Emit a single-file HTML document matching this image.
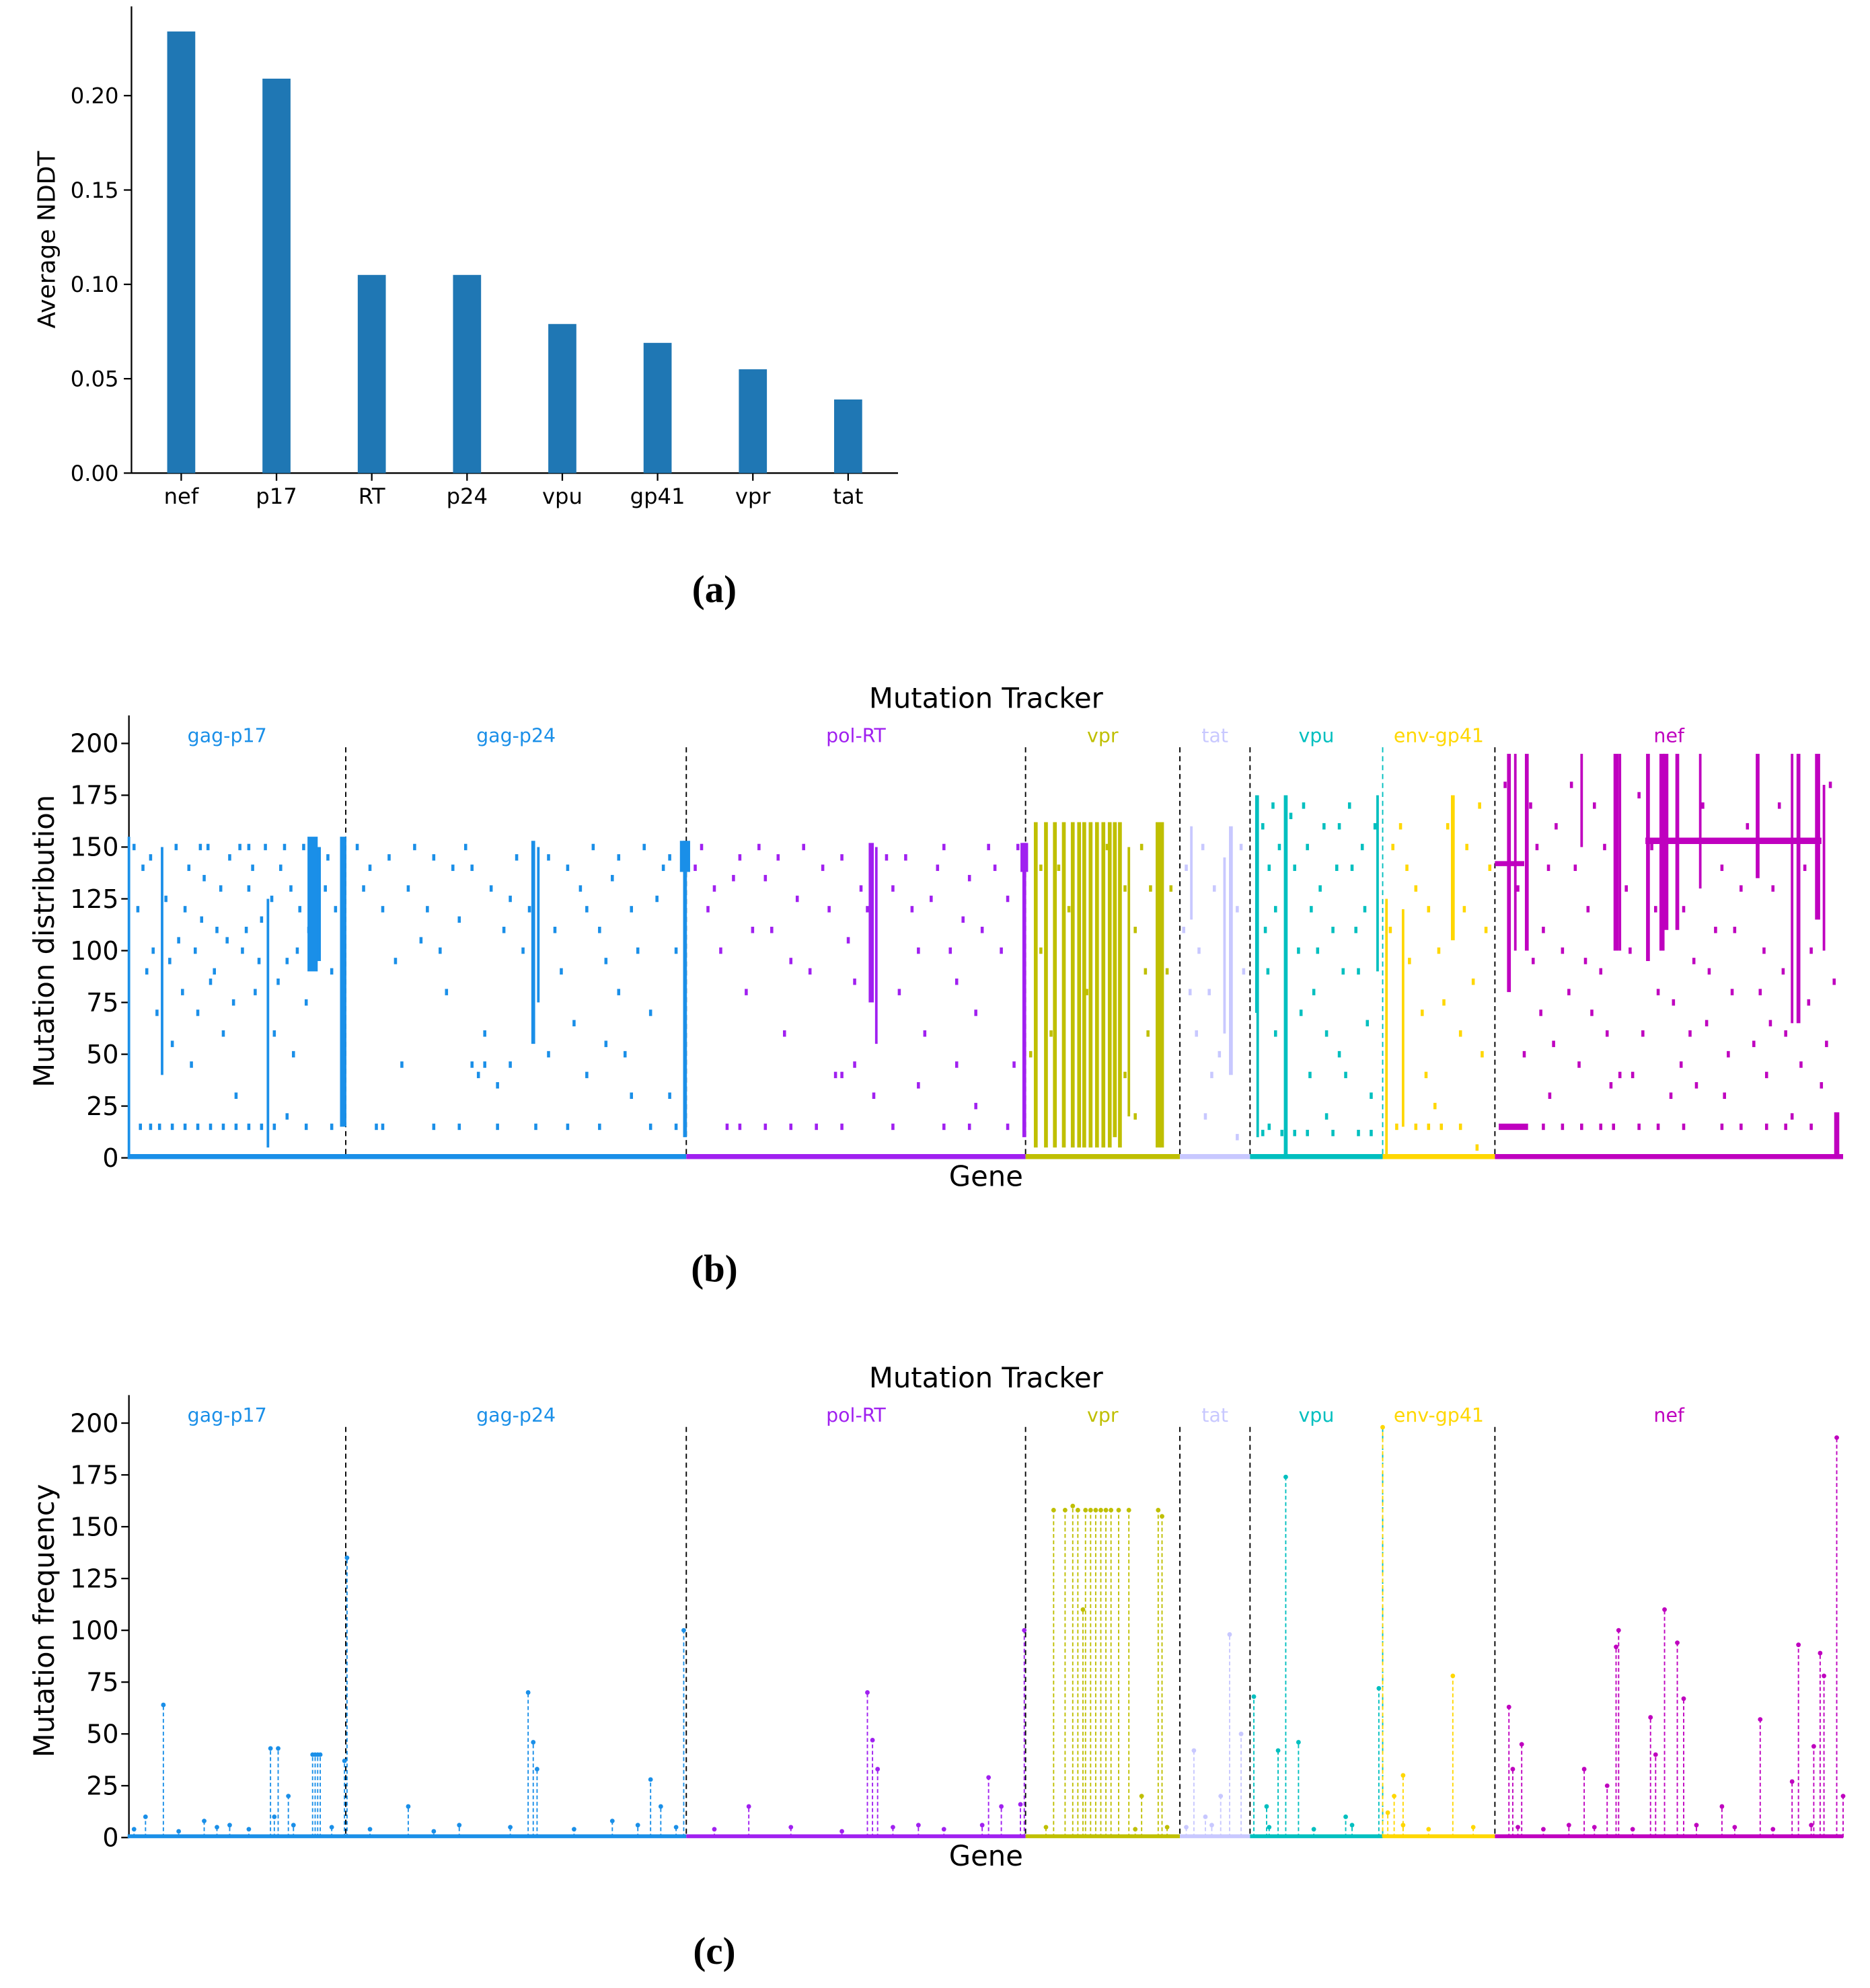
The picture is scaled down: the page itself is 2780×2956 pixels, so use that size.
<!DOCTYPE html>
<html><head><meta charset="utf-8"><style>
html,body{margin:0;padding:0;background:#fff;}
svg{display:block;}
text{font-family:"DejaVu Sans","Liberation Sans",sans-serif;}
.cap{font-family:"Liberation Serif",serif;font-weight:bold;font-size:30px;}
</style></head><body>
<svg id="fig" width="2780" height="2956" viewBox="0 0 1466 1559" xmlns="http://www.w3.org/2000/svg">
<g id="pa"></g>
<text class="cap" x="560" y="472" text-anchor="middle">(a)</text>
<g id="pb"></g>
<text class="cap" x="560" y="1005" text-anchor="middle">(b)</text>
<g id="pc"></g>
<text class="cap" x="560" y="1540" text-anchor="middle">(c)</text>
</svg>
<script>
// ---------- Panel (a) data ----------
const barCats = ["nef","p17","RT","p24","vpu","gp41","vpr","tat"];
const barVals = [0.234,0.209,0.105,0.105,0.079,0.069,0.055,0.039];
const barTicks = [0,0.05,0.10,0.15,0.20];
const barTickLabels = ["0.00","0.05","0.10","0.15","0.20"];

// ---------- Panels (b)/(c) data ----------
const genes = ["gag-p17","gag-p24","pol-RT","vpr","tat","vpu","env-gp41","nef"];
const geneStart = [0,171,438,704,825,880,984,1072];
const geneEnd = [171,438,704,825,880,984,1072,1345];
const geneColors = ["#1a8fe8","#1a8fe8","#a020f0","#bfbf00","#c8c8ff","#00bfbf","#ffd700","#bf00bf"];
const yTicks = [0,25,50,75,100,125,150,175,200];

// distribution vertical segments: [pos, y0, y1, geneIndex, width]
const distSegs = [
 [1,0,155,0,2],[27,40,150,0,2],[145,90,155,0,8],[150,95,150,0,3],[169,15,155,0,5],[110,5,125,0,2],
 [318,55,153,1,3],[322,75,150,1,2],[437,10,153,1,3],[437,138,153,1,8],
 [583,75,152,2,4],[587,55,150,2,2],[703,10,152,2,3],[703,138,152,2,6],
 [712,5,162,3,3],[720,5,162,3,3],[727,5,162,3,3],[734,5,162,3,3],[741,5,162,3,3],[746,5,162,3,3],[750,5,162,3,3],[755,5,162,3,3],[760,5,162,3,3],[765,5,162,3,3],[770,5,162,3,3],[774,10,162,3,3],[778,5,162,3,3],[785,20,150,3,2],[808,5,162,3,4],[811,5,162,3,3],
 [834,115,160,4,2],[865,40,160,4,3],[860,60,145,4,2],
 [908,0,175,5,3],[885,70,175,5,2],[886,10,175,5,2],[980,90,175,5,2],
 [1039,105,175,6,3],[987,0,125,6,2],[1000,15,120,6,2],
 [1083,80,195,7,3],[1088,100,195,7,2],[1097,100,195,7,3],[1140,150,195,7,2],[1167,100,195,7,4],[1170,100,195,7,2],[1192,95,195,7,3],[1203,100,195,7,4],[1206,110,195,7,4],[1215,110,195,7,3],[1233,130,195,7,2],[1278,135,195,7,3],[1305,65,195,7,2],[1310,65,195,7,3],[1325,115,195,7,4],[1340,0,22,7,4],[1330,100,180,7,2]
];
// horizontal segments: [pos0,pos1,y,geneIndex,width]
const distHSegs = [[1190,1328,153,7,5],[1072,1095,142,7,4],[1075,1098,15,7,5]];
// dots: [pos, value, geneIndex]
const distDots = [
 [5,150,0],[12,140,0],[20,100,0],[30,125,0],[40,105,0],[45,120,0],[50,45,0],[55,70,0],[60,135,0],[65,85,0],[70,110,0],[75,60,0],[80,145,0],[85,30,0],[90,100,0],[95,130,0],[100,80,0],[105,115,0],[115,60,0],[120,140,0],[125,95,0],[130,50,0],[135,120,0],[140,75,0],[155,130,0],[160,90,0],[10,15,0],[25,15,0],[45,15,0],[65,15,0],[85,15,0],[160,15,0],[35,55,0],[15,90,0],[95,150,0],[57,150,0],
 [8,120,0],[18,145,0],[23,70,0],[33,95,0],[38,150,0],[43,80,0],[48,140,0],[53,100,0],[58,115,0],[63,150,0],[68,90,0],[73,130,0],[78,105,0],[83,75,0],[88,150,0],[93,110,0],[98,140,0],[103,95,0],[108,150,0],[113,125,0],[118,85,0],[123,150,0],[128,130,0],[133,100,0],[138,150,0],[142,110,0],[157,145,0],[163,120,0],[18,15,0],[35,15,0],[55,15,0],[75,15,0],[95,15,0],[105,15,0],[115,15,0],[125,20,0],[140,15,0],
 [180,150,1],[190,140,1],[200,120,1],[210,95,1],[220,130,1],[230,105,1],[240,145,1],[250,80,1],[260,115,1],[270,140,1],[280,60,1],[290,35,1],[300,125,1],[310,100,1],[330,145,1],[340,90,1],[350,65,1],[360,120,1],[370,110,1],[380,135,1],[390,50,1],[400,100,1],[410,70,1],[420,140,1],[430,100,1],[195,15,1],[215,45,1],[240,15,1],[290,15,1],[300,45,1],[345,15,1],[410,15,1],[425,30,1],[275,40,1],[330,50,1],[355,130,1],
 [185,130,1],[205,145,1],[225,150,1],[235,120,1],[245,100,1],[255,140,1],[265,150,1],[285,130,1],[295,110,1],[305,145,1],[315,120,1],[335,110,1],[345,140,1],[365,150,1],[375,95,1],[385,145,1],[395,120,1],[405,150,1],[415,125,1],[425,145,1],[270,45,1],[280,45,1],[360,40,1],[375,55,1],[385,80,1],[395,30,1],[200,15,1],[260,15,1],[320,15,1],[370,15,1],[430,15,1],
 [445,140,2],[455,120,2],[465,100,2],[475,135,2],[485,80,2],[495,150,2],[505,110,2],[515,60,2],[525,125,2],[535,90,2],[545,140,2],[555,40,2],[565,105,2],[575,130,2],[595,145,2],[605,80,2],[615,120,2],[625,60,2],[635,140,2],[645,100,2],[655,115,2],[665,70,2],[675,150,2],[685,100,2],[695,45,2],[470,15,2],[500,15,2],[540,15,2],[600,15,2],[640,15,2],[690,15,2],[560,40,2],[620,35,2],
 [450,150,2],[460,130,2],[480,145,2],[490,110,2],[500,135,2],[510,145,2],[520,95,2],[530,150,2],[550,120,2],[560,145,2],[570,85,2],[580,120,2],[600,130,2],[610,145,2],[620,100,2],[630,125,2],[640,150,2],[650,85,2],[660,135,2],[670,110,2],[680,140,2],[690,125,2],[698,150,2],[570,45,2],[585,30,2],[650,45,2],[665,25,2],[480,15,2],[520,15,2],[560,15,2],[660,15,2],
 [716,100,3],[724,60,3],[730,140,3],[738,120,3],[752,80,3],[768,150,3],[782,40,3],[790,110,3],[798,90,3],[802,130,3],[790,20,3],[800,60,3],[708,50,3],[716,140,3],[782,130,3],[795,150,3],[815,90,3],[818,130,3],
 [830,140,4],[840,100,4],[848,80,4],[852,130,4],[856,50,4],[870,120,4],[875,90,4],[845,20,4],[870,10,4],[838,60,4],[828,110,4],[843,150,4],[850,40,4],[873,150,4],[833,80,4],
 [890,160,5],[895,140,5],[900,120,5],[912,165,5],[918,100,5],[925,150,5],[930,80,5],[935,130,5],[940,60,5],[945,110,5],[950,160,5],[955,40,5],[960,140,5],[965,90,5],[970,120,5],[975,30,5],[890,12,5],[895,15,5],[905,12,5],[915,12,5],[925,12,5],[945,12,5],[965,12,5],[975,12,5],[920,70,5],[940,20,5],
 [892,110,5],[898,170,5],[903,150,5],[915,140,5],[922,170,5],[928,120,5],[933,100,5],[938,160,5],[948,140,5],[953,90,5],[958,170,5],[963,110,5],[968,150,5],[972,65,5],[978,160,5],[894,90,5],[900,60,5],[927,40,5],[950,50,5],
 [992,150,6],[998,160,6],[1005,95,6],[1010,130,6],[1015,70,6],[1020,120,6],[1028,100,6],[1035,160,6],[1045,60,6],[1050,150,6],[1055,85,6],[1060,170,6],[1065,110,6],[995,15,6],[1010,15,6],[1020,15,6],[1030,15,6],[1045,15,6],[1058,5,6],[1025,25,6],
 [990,110,6],[1003,140,6],[1018,40,6],[1032,75,6],[1048,120,6],[1062,50,6],[1068,140,6],
 [1080,180,7],[1090,130,7],[1100,170,7],[1105,150,7],[1110,110,7],[1120,160,7],[1130,80,7],[1135,140,7],[1145,120,7],[1150,170,7],[1155,90,7],[1160,60,7],[1175,130,7],[1180,40,7],[1185,175,7],[1195,150,7],[1200,80,7],[1210,30,7],[1220,120,7],[1225,60,7],[1235,170,7],[1240,90,7],[1250,140,7],[1255,50,7],[1260,110,7],[1270,160,7],[1280,80,7],[1285,40,7],[1290,130,7],[1295,170,7],[1300,60,7],[1315,140,7],[1320,100,7],[1335,180,7],[1338,85,7],[1110,15,7],[1125,15,7],[1140,15,7],[1155,15,7],[1165,15,7],[1185,15,7],[1200,15,7],[1220,15,7],[1250,15,7],[1265,15,7],[1285,15,7],[1300,15,7],[1320,15,7],[1095,50,7],[1115,30,7],[1170,40,7],[1230,35,7],[1305,20,7],
 [1102,95,7],[1108,70,7],[1114,140,7],[1118,55,7],[1125,100,7],[1132,180,7],[1138,45,7],[1143,95,7],[1148,70,7],[1158,150,7],[1163,35,7],[1178,100,7],[1188,60,7],[1198,120,7],[1212,75,7],[1218,45,7],[1228,95,7],[1238,65,7],[1245,110,7],[1252,30,7],[1258,80,7],[1265,130,7],[1275,55,7],[1283,100,7],[1288,65,7],[1298,90,7],[1312,45,7],[1318,75,7],[1328,35,7],[1332,55,7]
];
// frequency stems: [pos, value, geneIndex]
const freqStems = [
 [28,64,0],[14,10,0],[112,43,0],[118,43,0],[126,20,0],[145,40,0],[147,40,0],[149,40,0],[151,40,0],[170,37,0],[172,135,0],[115,10,0],[60,8,0],[80,6,0],
 [314,70,1],[318,46,1],[321,33,1],[410,28,1],[418,15,1],[220,15,1],[436,100,1],[380,8,1],[260,6,1],
 [580,70,2],[584,47,2],[588,33,2],[675,29,2],[685,15,2],[703,100,2],[487,15,2],[700,16,2],[620,6,2],
 [726,158,3],[735,158,3],[741,160,3],[745,158,3],[749,110,3],[751,158,3],[755,158,3],[759,158,3],[763,158,3],[767,158,3],[771,158,3],[777,158,3],[785,158,3],[808,158,3],[811,155,3],[795,20,3],[815,5,3],
 [864,98,4],[836,42,4],[873,50,4],[857,20,4],[845,10,4],
 [908,174,5],[883,68,5],[918,46,5],[902,42,5],[981,72,5],[893,15,5],[955,10,5],
 [984,198,6],[1039,78,6],[1000,30,6],[993,20,6],[988,12,6],
 [1083,63,7],[1086,33,7],[1093,45,7],[1142,33,7],[1167,92,7],[1169,100,7],[1194,58,7],[1205,110,7],[1215,94,7],[1220,67,7],[1198,40,7],[1280,57,7],[1310,93,7],[1322,44,7],[1327,89,7],[1330,78,7],[1340,193,7],[1345,20,7],[1305,27,7],[1160,25,7],[1250,15,7]
];
// small low-level stems: [pos, value, geneIndex]
const freqSmall = [
 [5,4,0],[40,3,0],[70,5,0],[95,4,0],[130,6,0],[160,5,0],[190,4,1],[240,3,1],[300,5,1],[350,4,1],[400,6,1],[430,5,1],
 [460,4,2],[520,5,2],[560,3,2],[600,5,2],[640,4,2],[670,6,2],[720,5,3],[790,4,3],[830,5,4],[850,6,4],[895,5,5],[930,4,5],[960,6,5],
 [1000,6,6],[1020,4,6],[1055,5,6],[1090,5,7],[1110,4,7],[1130,6,7],[1150,5,7],[1180,4,7],[1230,6,7],[1260,5,7],[1290,4,7],[1320,6,7]
];

// ---------- helpers ----------
const NS="http://www.w3.org/2000/svg";
function mk(parent,tag,attrs,txt){const e=document.createElementNS(NS,tag);for(const k in attrs)e.setAttribute(k,attrs[k]);if(txt!==undefined)e.textContent=txt;parent.appendChild(e);return e;}

// ---------- Panel (a) ----------
(function(){
 const g=document.getElementById('pa');
 const x0=103,x1=704,yBase=371,yTop=5;
 const yA=v=>yBase-v*(296/0.20);
 const xA=i=>142+i*74.7;
 let e=mk(g,'line',{x1:x0,y1:yTop,x2:x0,y2:yBase,stroke:'#000','stroke-width':1.2});
 
 e=mk(g,'line',{x1:x0,y1:yBase,x2:x1,y2:yBase,stroke:'#000','stroke-width':1.2});
 
 barTicks.forEach((t,i)=>{
  const y=yA(t);
  let l=mk(g,'line',{x1:x0-6,y1:y,x2:x0,y2:y,stroke:'#000','stroke-width':1.2});
  
  let tx=mk(g,'text',{x:x0-10,y:y+6,'text-anchor':'end','font-size':17},barTickLabels[i]);
  
 });
 barCats.forEach((c,i)=>{
  const cx=xA(i);
  let r=mk(g,'rect',{x:cx-11,y:yA(barVals[i]),width:22,height:yBase-yA(barVals[i]),fill:'#1f77b4'});
  
  let l=mk(g,'line',{x1:cx,y1:yBase,x2:cx,y2:yBase+6,stroke:'#000','stroke-width':1.2});
  
  let tx=mk(g,'text',{x:cx,y:yBase+24,'text-anchor':'middle','font-size':17},c);
  
 });
 let yl=mk(g,'text',{x:0,y:0,'text-anchor':'middle','font-size':19,transform:'translate(43,188) rotate(-90)'},'Average NDDT');
 
})();

// ---------- Panels (b),(c) common ----------
function tracker(gid,yZero,yLabel,mode){
 const g=document.getElementById(gid);
 const X=p=>100+p;
 const Y=v=>yZero-v*1.625;
 const yTopAx=yZero-327;
 let t=mk(g,'text',{x:773,y:yZero-353,'text-anchor':'middle','font-size':22},'Mutation Tracker');
 
 let ax=mk(g,'line',{x1:101,y1:yTopAx-20,x2:101,y2:yZero,stroke:'#000','stroke-width':1.2});
 
 yTicks.forEach(v=>{
  let l=mk(g,'line',{x1:95,y1:Y(v),x2:101,y2:Y(v),stroke:'#000','stroke-width':1.2});
  
  let tx=mk(g,'text',{x:93,y:Y(v)+7,'text-anchor':'end','font-size':20},String(v));
  
 });
 let yl=mk(g,'text',{x:0,y:0,'text-anchor':'middle','font-size':22,transform:`translate(42,${yZero-170}) rotate(-90)`},yLabel);
 
 let xl=mk(g,'text',{x:773,y:yZero+22,'text-anchor':'middle','font-size':22},'Gene');
 
 genes.forEach((n,i)=>{
  const mid=(X(geneStart[i])+X(geneEnd[i]))/2;
  let tx=mk(g,'text',{x:i==0?178:mid,y:yZero-326,'text-anchor':'middle','font-size':15,fill:geneColors[i]},n);
  
  if(i>0){
   let d=mk(g,'line',{x1:X(geneStart[i]),y1:yZero-322,x2:X(geneStart[i]),y2:yZero,stroke:n=='env-gp41'?'#00bfbf':'#000','stroke-width':1,'stroke-dasharray':'4,3'});
   
  }
  let b=mk(g,'line',{x1:X(geneStart[i]),y1:yZero-1,x2:X(geneEnd[i]),y2:yZero-1,stroke:geneColors[i],'stroke-width':mode==='dist'?4:3});
  
 });
 if(mode==='dist'){
  distSegs.forEach(s=>{
   let l=mk(g,'line',{x1:X(s[0]),y1:Y(s[1]),x2:X(s[0]),y2:Y(s[2]),stroke:geneColors[s[3]],'stroke-width':s[4]});
   
  });
  distHSegs.forEach(s=>{
   let l=mk(g,'line',{x1:X(s[0]),y1:Y(s[2]),x2:X(s[1]),y2:Y(s[2]),stroke:geneColors[s[3]],'stroke-width':s[4]});
   
  });
  distDots.forEach(d=>{
   let c=mk(g,'rect',{x:X(d[0])-1.2,y:Y(d[1])-2.5,width:2.4,height:5,fill:geneColors[d[2]]});
   
  });
 } else {
  freqStems.concat(freqSmall).forEach(s=>{
   let l=mk(g,'line',{x1:X(s[0]),y1:yZero,x2:X(s[0]),y2:Y(s[1]),stroke:geneColors[s[2]],'stroke-width':1,'stroke-dasharray':'3,2'});
   
   let c=mk(g,'circle',{cx:X(s[0]),cy:Y(s[1]),r:1.8,fill:geneColors[s[2]]});
   
  });
 }
}
tracker('pb',908,'Mutation distribution','dist');
tracker('pc',1441,'Mutation frequency','freq');
</script>
</body></html>
